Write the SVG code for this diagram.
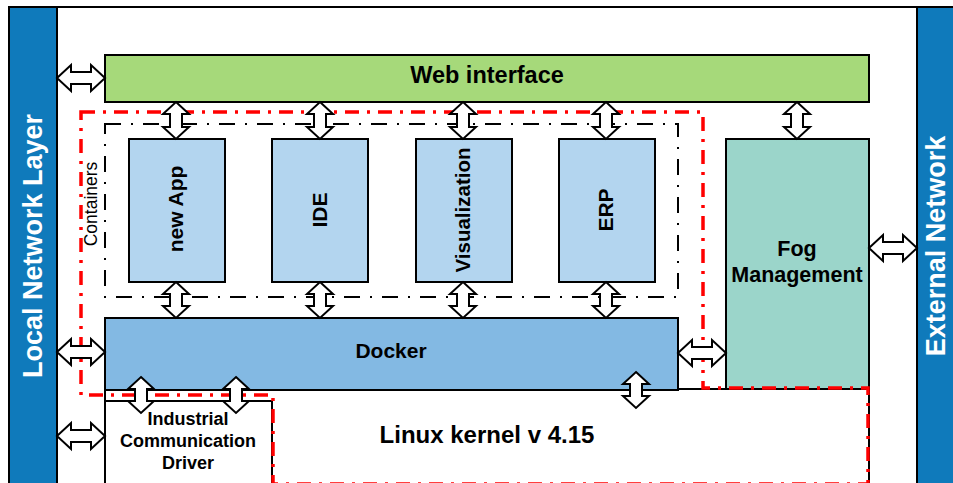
<svg xmlns="http://www.w3.org/2000/svg" width="953" height="483" viewBox="0 0 953 483">
<defs>
<style>
.box{stroke:#000;stroke-width:2}
.t{font-family:"Liberation Sans",Arial,sans-serif;font-weight:bold;fill:#000;text-anchor:middle}
.bar{font-family:"Liberation Sans",Arial,sans-serif;font-weight:bold;fill:#fff;text-anchor:middle;font-size:27px}
.arr{fill:#fff;stroke:#000;stroke-width:2;stroke-linejoin:miter}
.red{fill:none;stroke:#ff0000;stroke-width:3.5;stroke-dasharray:14 8 3 8}
.cont{fill:none;stroke:#000;stroke-width:2;stroke-dasharray:16 10 2 10}
</style>
</defs>
<rect x="0" y="0" width="953" height="483" fill="#fff"/>
<g id="frame">
<rect x="9" y="7" width="960" height="500" fill="#fff" class="box"/>
</g>
<g id="local-network">
<rect x="9" y="7" width="48" height="500" fill="#0f7abb" class="box"/>
<text class="bar" transform="translate(33,246) rotate(-90)" dy="0.35em">Local Network Layer</text>
</g>
<g id="external-network">
<rect x="917" y="7" width="48" height="500" fill="#0f7abb" class="box"/>
<text class="bar" transform="translate(936,246) rotate(-90)" dy="0.35em">External Network</text>
</g>
<g id="web-interface">
<rect x="105" y="55" width="764" height="47" fill="#a6d97a" class="box"/>
<text class="t" x="487" y="83" font-size="23.5">Web interface</text>
</g>
<g id="containers">
<rect x="105" y="124" width="573" height="173" class="cont"/>
<text transform="translate(91,204) rotate(-90)" dy="0.35em" font-family="Liberation Sans, Arial, sans-serif" font-size="17.5" text-anchor="middle" fill="#000">Containers</text>
</g>
<g id="new-app">
<rect x="129" y="139" width="96" height="143" fill="#b3d5ef" class="box"/>
<text class="t" transform="translate(176,209) rotate(-90)" dy="0.35em" font-size="21">new App</text>
</g>
<g id="ide">
<rect x="272" y="139" width="96" height="143" fill="#b3d5ef" class="box"/>
<text class="t" transform="translate(320,210) rotate(-90)" dy="0.35em" font-size="21">IDE</text>
</g>
<g id="visualization">
<rect x="416" y="139" width="96" height="143" fill="#b3d5ef" class="box"/>
<text class="t" transform="translate(463,210) rotate(-90)" dy="0.35em" font-size="20.5">Visualization</text>
</g>
<g id="erp">
<rect x="559" y="139" width="96" height="143" fill="#b3d5ef" class="box"/>
<text class="t" transform="translate(606,210) rotate(-90)" dy="0.35em" font-size="21">ERP</text>
</g>
<g id="fog-management">
<rect x="726" y="139" width="143" height="250" fill="#9bd5ca" class="box"/>
<text class="t" x="797" y="256" font-size="21.5">Fog</text>
<text class="t" x="797" y="282" font-size="21.5">Management</text>
</g>
<g id="linux-kernel">
<rect x="105" y="389" width="764" height="110" fill="#fff" class="box"/>
<text class="t" x="487" y="443" font-size="24">Linux kernel v 4.15</text>
</g>
<g id="docker">
<rect x="105" y="318" width="573" height="72" fill="#83b9e3" class="box"/>
<text class="t" x="391" y="358" font-size="21">Docker</text>
</g>
<g id="driver">
<rect x="105" y="401" width="167" height="100" fill="#fff" class="box"/>
<text class="t" x="188" y="425" font-size="18">Industrial</text>
<text class="t" x="188" y="447" font-size="18">Communication</text>
<text class="t" x="188" y="469" font-size="18">Driver</text>
</g>
<g id="edge-boundary">
<path class="red" d="M81,112 H703 V388 H868 V484 H273 V395 H81 Z"/>
</g>
<g id="connectors">
<polygon class="arr" points="57,78 71,65 71,72 91,72 91,65 105,78 91,91 91,84 71,84 71,91"/>
<polygon class="arr" points="57,352 71,339 71,346 91,346 91,339 105,352 91,365 91,358 71,358 71,365"/>
<polygon class="arr" points="57,436 71,423 71,430 91,430 91,423 105,436 91,449 91,442 71,442 71,449"/>
<polygon class="arr" points="678,353 692,340 692,347 712,347 712,340 726,353 712,366 712,359 692,359 692,366"/>
<polygon class="arr" points="869,248 883,235 883,242 903,242 903,235 917,248 903,261 903,254 883,254 883,261"/>
<polygon class="arr" points="176,102 189,114 182,114 182,127 189,127 176,139 163,127 170,127 170,114 163,114"/>
<polygon class="arr" points="320,102 333,114 326,114 326,127 333,127 320,139 307,127 314,127 314,114 307,114"/>
<polygon class="arr" points="463,102 476,114 469,114 469,127 476,127 463,139 450,127 457,127 457,114 450,114"/>
<polygon class="arr" points="606,102 619,114 612,114 612,127 619,127 606,139 593,127 600,127 600,114 593,114"/>
<polygon class="arr" points="797,102 810,114 803,114 803,127 810,127 797,139 784,127 791,127 791,114 784,114"/>
<polygon class="arr" points="176,282 189,294 182,294 182,306 189,306 176,318 163,306 170,306 170,294 163,294"/>
<polygon class="arr" points="320,282 333,294 326,294 326,306 333,306 320,318 307,306 314,306 314,294 307,294"/>
<polygon class="arr" points="463,282 476,294 469,294 469,306 476,306 463,318 450,306 457,306 457,294 450,294"/>
<polygon class="arr" points="606,282 619,294 612,294 612,306 619,306 606,318 593,306 600,306 600,294 593,294"/>
<polygon class="arr" points="636,372 649,384 642,384 642,396 649,396 636,408 623,396 630,396 630,384 623,384"/>
<polygon class="arr" points="141,377 154,389 147,389 147,401 154,401 141,413 128,401 135,401 135,389 128,389"/>
<polygon class="arr" points="236,377 249,389 242,389 242,401 249,401 236,413 223,401 230,401 230,389 223,389"/>
</g>
</svg>
